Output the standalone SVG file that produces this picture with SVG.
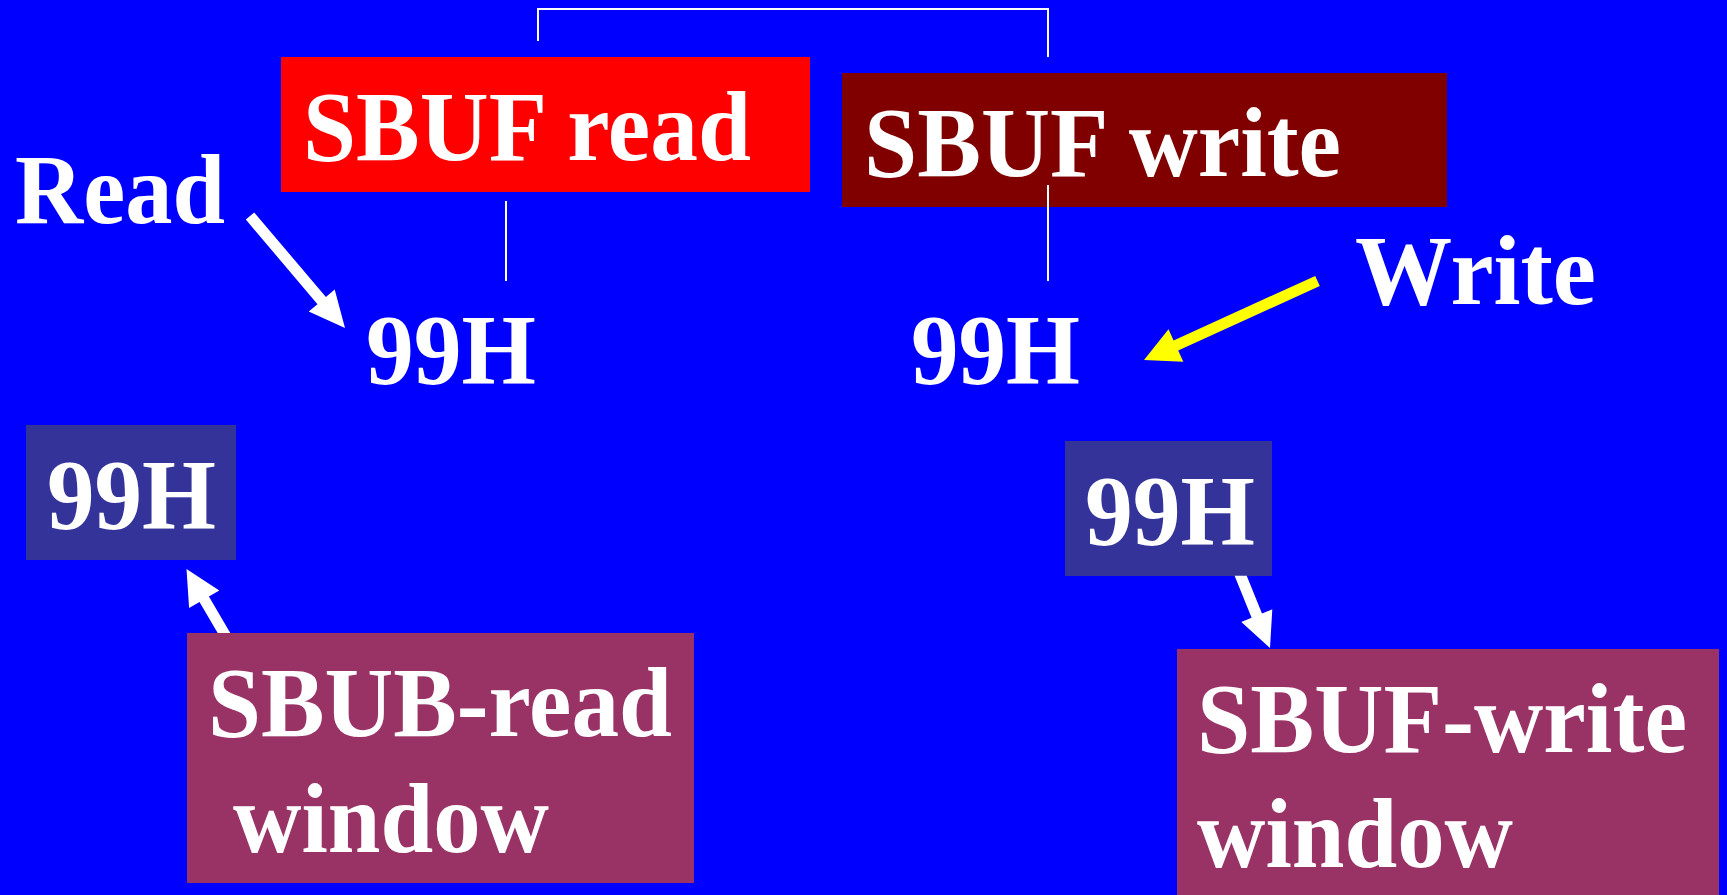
<svg xmlns="http://www.w3.org/2000/svg" width="1727" height="895" viewBox="0 0 1727 895">
  <style>
    .t { font-family: "Liberation Serif", "Times New Roman", serif; font-weight: bold; fill: #FFFFFF; font-size: 99px; }
    .ln { stroke: #FFFFFF; stroke-width: 2; fill: none; }
    .aw { fill: #FFFFFF; }
    .ay { fill: #FFFF00; }
  </style>
  <rect x="0" y="0" width="1727" height="895" fill="#0000FF"/>

  <g id="label-read">
    <text class="t" x="15" y="223" font-size="96" textLength="210" lengthAdjust="spacingAndGlyphs">Read</text>
  </g>
  <g id="sbuf-read">
    <rect x="281" y="57" width="529" height="135" fill="#FF0000"/>
    <text class="t" x="303" y="160" textLength="448" lengthAdjust="spacingAndGlyphs">SBUF read</text>
  </g>
  <g id="sbuf-write">
    <rect x="842" y="73" width="605" height="134" fill="#800000"/>
    <text class="t" x="864" y="176" font-size="100" textLength="477" lengthAdjust="spacingAndGlyphs">SBUF write</text>
  </g>
  <g id="label-write">
    <text class="t" x="1355" y="304" font-size="101" textLength="241" lengthAdjust="spacingAndGlyphs">Write</text>
  </g>
  <g id="value-read">
    <text class="t" x="366" y="383" font-size="100" textLength="170" lengthAdjust="spacingAndGlyphs">99H</text>
  </g>
  <g id="value-write">
    <text class="t" x="911" y="383" font-size="100" textLength="169" lengthAdjust="spacingAndGlyphs">99H</text>
  </g>
  <g id="reg-read">
    <rect x="26" y="425" width="210" height="135" fill="#333399"/>
    <text class="t" x="47" y="528" textLength="169" lengthAdjust="spacingAndGlyphs">99H</text>
  </g>
  <g id="reg-write">
    <rect x="1065" y="441" width="207" height="135" fill="#333399"/>
    <text class="t" x="1085" y="544" textLength="170" lengthAdjust="spacingAndGlyphs">99H</text>
  </g>
  <g id="read-window">
    <rect x="187" y="633" width="507" height="250" fill="#993366"/>
    <text class="t" x="208" y="736" font-size="98" textLength="464" lengthAdjust="spacingAndGlyphs">SBUB-read</text>
    <text class="t" x="233" y="852" font-size="98" textLength="316" lengthAdjust="spacingAndGlyphs">window</text>
  </g>
  <g id="write-window">
    <rect x="1177" y="649" width="542" height="246" fill="#993366"/>
    <text class="t" x="1197" y="752" textLength="490" lengthAdjust="spacingAndGlyphs">SBUF-write</text>
    <text class="t" x="1197" y="867" textLength="316" lengthAdjust="spacingAndGlyphs">window</text>
  </g>

  <g id="connectors">
    <polyline class="ln" points="538,41 538,9 1048,9 1048,57"/>
    <line class="ln" x1="506" y1="201" x2="506" y2="281"/>
    <line class="ln" x1="1048" y1="185" x2="1048" y2="281"/>
    <!-- Read -> 99H -->
    <polygon class="aw" points="254.2,212.4 325.9,297.0 334.7,289.6 345,328 308.7,311.6 317.5,304.2 245.8,219.6"/>
    <!-- Write -> 99H -->
    <polygon class="ay" points="1315.2,275.9 1173.6,340.4 1168.5,329.2 1144,360 1183.3,361.8 1178.2,350.6 1319.8,286.1"/>
    <!-- read window -> register -->
    <polygon class="aw" points="217.7,633 199.5,601.9 189.1,608.0 186.5,569 219.3,590.4 208.9,596.5 230.3,633"/>
    <!-- register -> write window -->
    <polygon class="aw" points="1234.6,575.7 1251.6,617.7 1241.3,621.9 1270,648 1272.3,609.3 1262.0,613.5 1246.7,575.7"/>
  </g>
</svg>
